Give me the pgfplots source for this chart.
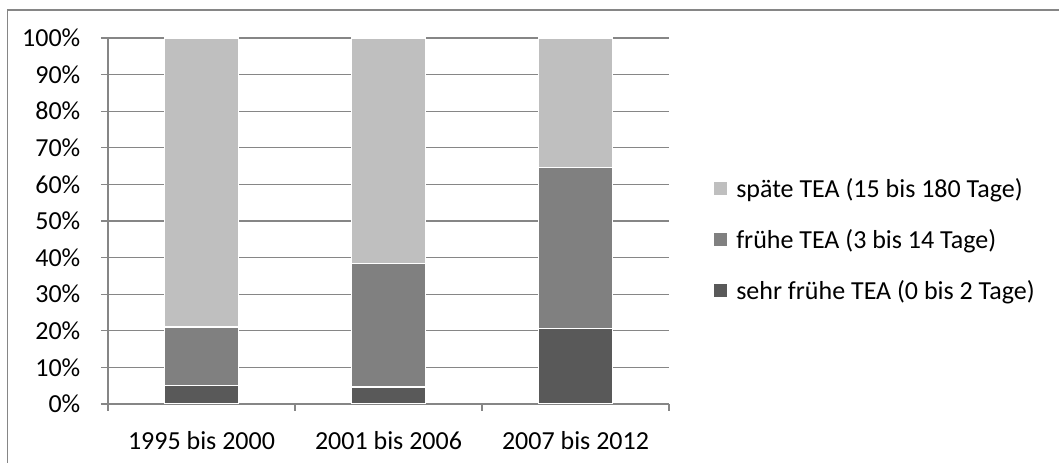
\documentclass[border=0pt]{standalone}
\usepackage{fontspec}
\setmainfont{Carlito}
\usepackage{pgfplots}
\pgfplotsset{compat=1.18}
\definecolor{cdark}{HTML}{595959}
\definecolor{cmid}{HTML}{808080}
\definecolor{clight}{HTML}{BFBFBF}
\definecolor{gridc}{HTML}{868686}
\newcommand{\fnt}{\fontsize{19.5}{23}\selectfont}
\begin{document}
\begin{tikzpicture}[x=1pt,y=1pt]
\path[use as bounding box] (-81,-44.25) rectangle (713.25,303);
\draw[gridc, line width=1.1pt] (-75.5,-60) -- (-75.5,295.5) -- (730,295.5);
\begin{axis}[
  at={(0,0)}, anchor=south west,
  scale only axis, width=420.75pt, height=274.5pt,
  ybar stacked, bar width=55.5pt,
  ymin=0, ymax=100, xmin=0.5, xmax=3.5,
  ytick={0,10,...,100},
  yticklabels={0\%,10\%,20\%,30\%,40\%,50\%,60\%,70\%,80\%,90\%,100\%},
  xtick={1,2,3},
  xticklabels={1995 bis 2000, 2001 bis 2006, 2007 bis 2012},
  x tick style={draw=none},
  extra x ticks={0.5,1.5,2.5,3.5},
  extra x tick labels={},
  extra x tick style={x tick style={draw=gridc, line width=0.9pt}, major tick length=5.25pt},
  y tick style={draw=gridc, line width=0.9pt},
  major tick length=5.25pt,
  tick align=outside,
  axis lines*=left,
  axis line style={draw=gridc, line width=0.9pt},
  ymajorgrids, grid style={draw=gridc, line width=0.9pt},
  tick label style={font=\fnt},
  yticklabel style={xshift=-12pt},
  xticklabel style={yshift=-12pt},
  reverse legend,
  legend cell align=left,
  legend style={draw=none, fill=none, font=\fnt, at={(1.079,0.449)}, anchor=west,
    inner sep=0pt, row sep=17.5pt, nodes={inner sep=2.5pt}},
]
\addplot[fill=cdark, draw=white, line width=1pt,
  legend image code/.code={\fill[cdark] (0pt,-4.5pt) rectangle (9pt,4.5pt); \path (13.5pt,0pt);}]
  coordinates {(1,5.1) (2,4.6) (3,20.7)};
\addlegendentry{sehr frühe TEA (0 bis 2 Tage)}
\addplot[fill=cmid, draw=white, line width=1pt,
  legend image code/.code={\fill[cmid] (0pt,-4.5pt) rectangle (9pt,4.5pt); \path (13.5pt,0pt);}]
  coordinates {(1,15.9) (2,33.7) (3,44.0)};
\addlegendentry{frühe TEA (3 bis 14 Tage)}
\addplot[fill=clight, draw=white, line width=1pt,
  legend image code/.code={\fill[clight] (0pt,-4.5pt) rectangle (9pt,4.5pt); \path (13.5pt,0pt);}]
  coordinates {(1,79.0) (2,61.7) (3,35.3)};
\addlegendentry{späte TEA (15 bis 180 Tage)}
\end{axis}
\end{tikzpicture}
\end{document}
